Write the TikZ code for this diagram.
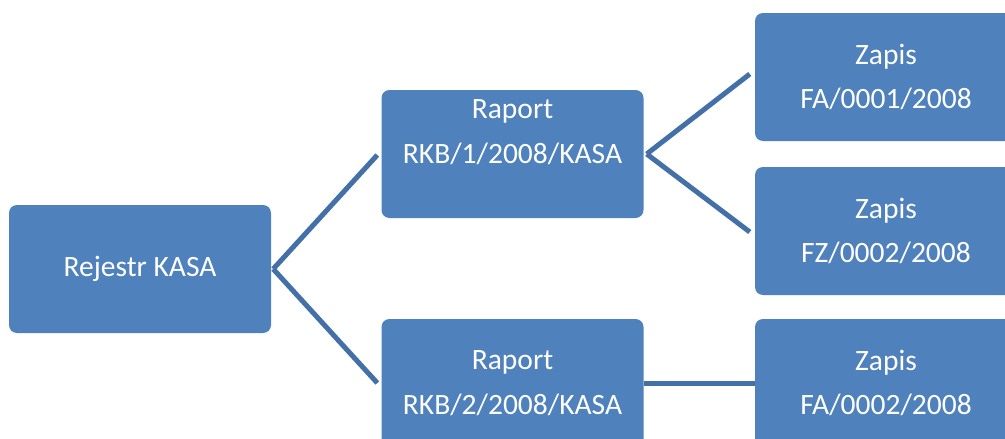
\documentclass[tikz,border=0pt]{standalone}
\usepackage{fontspec}
\setmainfont{Carlito}
\definecolor{boxblue}{HTML}{4F81BD}
\definecolor{lineblue}{HTML}{4470A8}
\tikzset{
	box/.style={draw=none, fill=boxblue, rounded corners=8pt, minimum width=262pt, minimum height=128pt,
		text=white, align=center, inner sep=0pt, font=\fontsize{29.5}{44.5}\selectfont},
	conn/.style={draw=lineblue, line width=5pt}
}
\begin{document}
\begin{tikzpicture}[x=1pt,y=-1pt]
		\clip (0,0) rectangle (1005,439);
		\fill[white] (0,0) rectangle (1005,439);
		\node[box] (rejestr) at (140,269){Rejestr KASA};
		\node[box] (raport1) at (512.5,154){Raport\\RKB/1/2008/KASA\\\mbox{}};
		\node[box] (raport2) at (512.5,383){Raport\\RKB/2/2008/KASA};
		\node[box] (zapis1) at (886,77){Zapis\\FA/0001/2008};
		\node[box] (zapis2) at (886,231){Zapis\\FZ/0002/2008};
		\node[box] (zapis3) at (886,383){Zapis\\FA/0002/2008};
		\draw[conn] ([xshift=2pt]rejestr.east) -- ([xshift=-4pt,yshift=-1pt]raport1.west);
		\draw[conn] ([xshift=2pt]rejestr.east) -- ([xshift=-4pt]raport2.west);
		\draw[conn] ([xshift=3pt]raport1.east) -- ([xshift=-5pt,yshift=3pt]zapis1.west);
		\draw[conn] ([xshift=3pt]raport1.east) -- ([xshift=-5pt,yshift=-1pt]zapis2.west);
		\draw[conn] (raport2.east) -- (zapis3.west);
	\end{tikzpicture}
\end{document}
